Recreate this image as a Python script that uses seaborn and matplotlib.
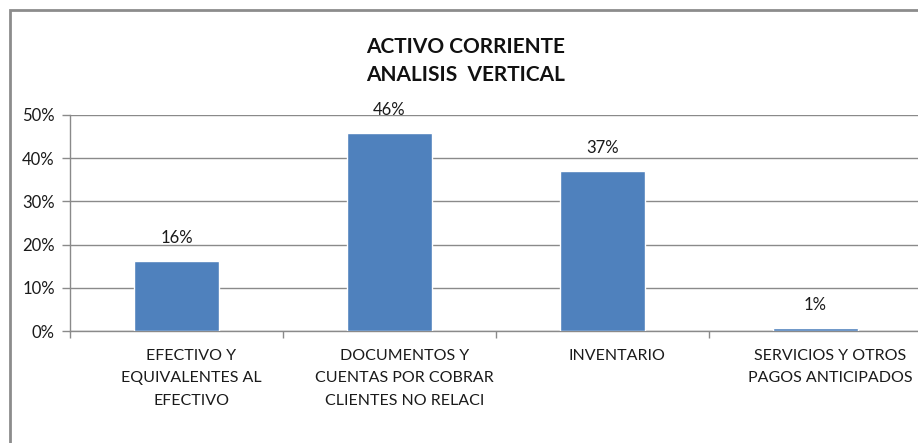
import matplotlib
matplotlib.use("Agg")
import matplotlib.pyplot as plt
import seaborn as sns
import pandas as pd
from matplotlib.patches import Rectangle

categories = ["EFECTIVO Y\nEQUIVALENTES AL\nEFECTIVO",
              "DOCUMENTOS Y\nCUENTAS POR COBRAR\nCLIENTES NO RELACI",
              "INVENTARIO",
              "SERVICIOS Y OTROS\nPAGOS ANTICIPADOS"]
values = [0.162, 0.458, 0.370, 0.007]
value_labels = ["16%", "46%", "37%", "1%"]
y_ticks = [0.0, 0.1, 0.2, 0.3, 0.4, 0.5]
y_tick_labels = ["0%", "10%", "20%", "30%", "40%", "50%"]
title_text = "ACTIVO CORRIENTE\nANALISIS  VERTICAL"

sns.set_theme(style="white")
plt.rcParams['font.family'] = ['Lato', 'DejaVu Sans']

df = pd.DataFrame({"cat": categories, "val": values})

W, H = 918, 443
fig = plt.figure(figsize=(W / 100, H / 100), dpi=100)
fig.patch.set_facecolor("white")

# outer chart border (gray)
fig.add_artist(Rectangle((9.5 / W, -0.1), 1.2, (H - 9.5) / H + 0.1, transform=fig.transFigure,
                         fill=False, edgecolor="#8c8c8c", linewidth=2.0))

ax = fig.add_axes([70 / W, (H - 331) / H, 852 / W, 216 / H])
sns.barplot(data=df, x="cat", y="val", color="#4F81BD", width=0.4, saturation=1,
            ax=ax, zorder=3)

ax.set_xlim(-0.5, 3.5)
ax.set_ylim(0, 0.5)
ax.set_yticks(y_ticks)
ax.set_yticklabels(y_tick_labels, fontsize=12, color="#1a1a1a")
ax.yaxis.grid(True, color="#8a8a8a", linewidth=1.0, zorder=0)
ax.set_axisbelow(True)
ax.tick_params(axis="y", length=6, color="#8a8a8a", width=1, pad=5, left=True)

ax.set_xticks([i + 0.07 for i in range(len(categories))])
ax.set_xticklabels(categories, fontsize=11.5, color="#1a1a1a", linespacing=1.75, va="top")
ax.tick_params(axis="x", length=0, pad=13)
ax.set_xticks([-0.5, 0.5, 1.5, 2.5, 3.5], minor=True)
ax.tick_params(axis="x", which="minor", length=5, color="#8a8a8a", width=1, bottom=True)

ax.set_xlabel("")
ax.set_ylabel("")
for s in ["top", "right"]:
    ax.spines[s].set_visible(False)
for s in ["left", "bottom"]:
    ax.spines[s].set_color("#8a8a8a")
    ax.spines[s].set_linewidth(1.0)

for i, (v, lab) in enumerate(zip(values, value_labels)):
    ax.annotate(lab, (i, v), xytext=(0, 11), textcoords="offset points",
                ha="center", va="bottom", fontsize=12, color="#1a1a1a")

fig.text(466 / W, 1 - 61 / H, title_text, ha="center", va="center", fontsize=15,
         fontweight="bold", color="#111111", linespacing=1.55)

fig.savefig("out.png", dpi=100)
